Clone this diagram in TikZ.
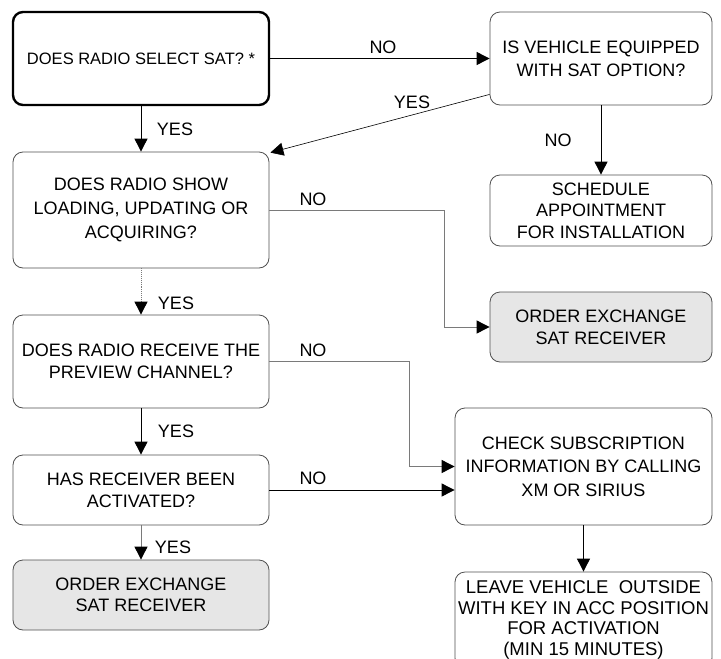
\documentclass[tikz,border=0pt]{standalone}
\usepackage{fontspec}
\setmainfont{Liberation Sans}
\usetikzlibrary{arrows.meta}
\definecolor{boxline}{HTML}{505050}
\definecolor{greyfill}{HTML}{E6E6E6}
\definecolor{lineg}{HTML}{7A7A7A}
\begin{document}
\begin{tikzpicture}[x=1pt,y=-1pt,
  box/.style={draw=boxline, line width=0.8pt, rounded corners=10pt, align=center, inner sep=0pt,
    font=\fontsize{18}{23}\selectfont},
  thickbox/.style={box, draw=black, line width=2.4pt},
  greybox/.style={box, fill=greyfill},
  conn/.style={draw=black, line width=0.9pt, -{Triangle[length=13pt,width=13pt]}},
  gconn/.style={draw=lineg, line width=0.9pt, -{Triangle[length=13pt,width=13pt,color=black]}},
  dconn/.style={gconn, densely dotted},
  lbl/.style={inner sep=0pt, font=\fontsize{18}{22}\selectfont}]
\useasboundingbox (0,0) rectangle (721,659);
\clip (0,0) rectangle (721,659);

\node[thickbox, minimum width=256, minimum height=93, font=\fontsize{16.5}{22}\selectfont] (A) at (141,58.5) {DOES RADIO SELECT SAT? *};
\node[box, minimum width=222, minimum height=93] (B) at (601,58.5) {IS VEHICLE EQUIPPED\\WITH SAT OPTION?};
\node[box, minimum width=222, minimum height=71, font=\fontsize{18}{21.5}\selectfont] (C) at (601,210.5) {SCHEDULE\\APPOINTMENT\\FOR INSTALLATION};
\node[box, minimum width=256, minimum height=116, font=\fontsize{18}{24}\selectfont] (D) at (141,210) {DOES RADIO SHOW\\LOADING, UPDATING OR\\ACQUIRING?};
\node[greybox, minimum width=222, minimum height=70, font=\fontsize{18}{22}\selectfont] (E) at (601,327) {ORDER EXCHANGE\\SAT RECEIVER};
\node[box, minimum width=256, minimum height=93, font=\fontsize{18}{22}\selectfont] (F) at (141,361.5) {DOES RADIO RECEIVE THE\\PREVIEW CHANNEL?};
\node[box, minimum width=257, minimum height=117, font=\fontsize{18}{23.5}\selectfont] (G) at (583.5,466.5) {CHECK SUBSCRIPTION\\INFORMATION BY CALLING\\XM OR SIRIUS};
\node[box, minimum width=256, minimum height=70, font=\fontsize{18}{22}\selectfont] (H) at (141,490) {HAS RECEIVER BEEN\\ACTIVATED?};
\node[greybox, minimum width=256, minimum height=70, font=\fontsize{18}{21.5}\selectfont] (I) at (141,595) {ORDER EXCHANGE\\SAT RECEIVER};
\node[box, minimum width=257, minimum height=96, font=\fontsize{18.5}{20.5}\selectfont] (J) at (583.5,620) {LEAVE VEHICLE\ \ OUTSIDE\\WITH KEY IN ACC POSITION\\FOR ACTIVATION\\(MIN 15 MINUTES)};

\draw[conn] (A.east) -- (B.west);
\draw[conn] (A.south) -- (D.north);
\draw[conn, line width=0.6pt] ([yshift=11pt]B.south west) -- ([xshift=1pt,yshift=-1pt]D.north east);
\draw[conn] (B.south) -- (C.north);
\draw[gconn] (D.east) -- ++(175,0) |- (E.west);
\draw[dconn] (D.south) -- (F.north);
\draw[gconn] (F.east) -- ++(140,0) |- (G.west);
\draw[conn] (F.south) -- (H.north);
\draw[conn] (H.east) -- (H.east -| G.west);
\draw[gconn] (H.south) -- (I.north);
\draw[conn] (G.south) -- (J.north);

\node[lbl] (l1) at (383,47) {NO};
\node[lbl] (l2) at (175,129) {YES};
\node[lbl] (l3) at (412,102) {YES};
\node[lbl] (l4) at (558,140) {NO};
\node[lbl] (l5) at (313,199) {NO};
\node[lbl] (l6) at (176,303) {YES};
\node[lbl] (l7) at (313,350) {NO};
\node[lbl] (l8) at (176,431) {YES};
\node[lbl] (l9) at (313,478) {NO};
\node[lbl] (l10) at (173,547) {YES};
\end{tikzpicture}
\end{document}
